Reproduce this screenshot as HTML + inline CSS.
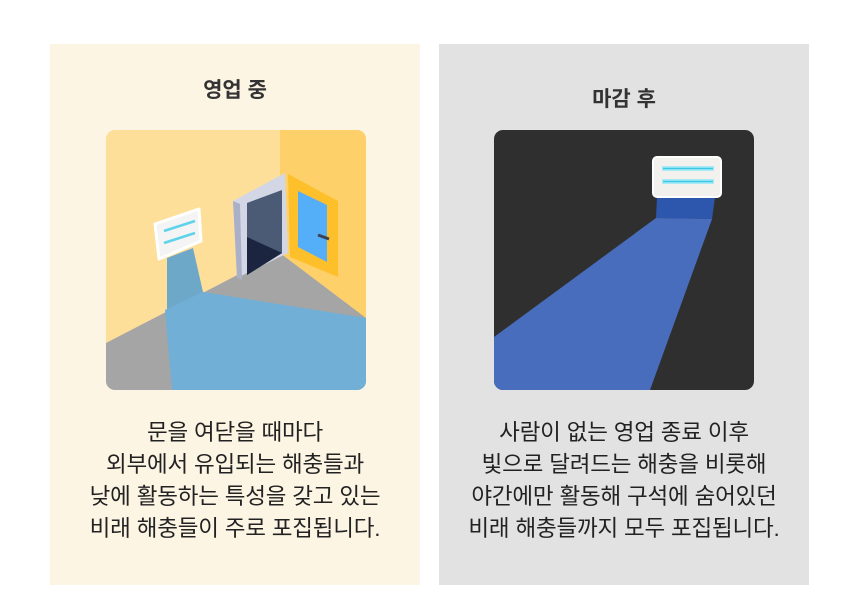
<!DOCTYPE html>
<html><head><meta charset="utf-8"><style>
body{margin:0;width:860px;height:612px;background:#fff;position:relative;overflow:hidden;font-family:"Liberation Sans","Noto Sans CJK KR",sans-serif;color:#222}
.card{position:absolute;top:44px;width:370px;height:541px}
.t{position:absolute;left:0;width:370px;text-align:center;font-size:21px;font-weight:bold;color:#333}
.b{position:absolute;left:0;top:373px;width:370px;text-align:center;font-size:22.5px;line-height:32px;color:#222;letter-spacing:-0.2px}
svg{position:absolute;top:86px}
</style></head><body>
<div class="card" style="left:50px;background:#fdf5e4">
<div class="t" style="top:30px">영업 중</div>
<svg style="left:56px" width="260" height="260" viewBox="0 0 260 260">
<defs><clipPath id="c1"><rect width="260" height="260" rx="9"/></clipPath></defs>
<g clip-path="url(#c1)">
<rect width="260" height="260" fill="#fedf9a"/>
<polygon points="174,0 260,0 260,188 174,123" fill="#fed06a"/>
<polygon points="0,213 174,123 260,188 260,260 0,260" fill="#a5a5a5"/>
<polygon points="61,128 87,118 97,162 61,180" fill="#6ea8c8"/>
<polygon points="59,180 97,162 260,188 260,260 66,260" fill="#71afd6"/>
<polygon points="49,94 93,79 95,111 53,129" fill="#f4f4f4" stroke="#fff" stroke-width="3" stroke-linejoin="round"/>
<line x1="58" y1="101" x2="89" y2="91" stroke="#5fd3ea" stroke-width="2.5"/>
<line x1="58" y1="113" x2="89" y2="103" stroke="#5fd3ea" stroke-width="2.5"/>
<polygon points="127,71 179,43 182,123 131,148" fill="#d3d7e5"/>
<polygon points="127,71 134,74 136,150 131,148" fill="#aab0c8"/>
<polygon points="141,73 176,60 176,123 141,145" fill="#4b5a75"/>
<polygon points="141,107 176,123 141,145" fill="#1c2540"/>
<polygon points="182,44 232,71 232,147 184,127" fill="#fdc02a"/>
<polygon points="192,61 221,75 221,132 192,117" fill="#55aef8"/>
<line x1="212" y1="105" x2="223" y2="109" stroke="#3a4356" stroke-width="3"/>
</g></svg>
<div class="b">문을 여닫을 때마다<br>외부에서 유입되는 해충들과<br>낮에 활동하는 특성을 갖고 있는<br>비래 해충들이 주로 포집됩니다.</div>
</div>
<div class="card" style="left:439px;background:#e2e2e2">
<div class="t" style="top:39px">마감 후</div>
<svg style="left:55px" width="260" height="260" viewBox="0 0 260 260">
<defs><clipPath id="c2"><rect width="260" height="260" rx="9"/></clipPath></defs>
<g clip-path="url(#c2)">
<rect width="260" height="260" fill="#2f2f2f"/>
<polygon points="163,67 221,67 218,89 162,88" fill="#2d57ad"/>
<polygon points="162,88 218,89 156,260 0,260 0,207" fill="#496dbd"/>
<rect x="159" y="27" width="68" height="40" rx="4" fill="#f3f1ee" stroke="#fff" stroke-width="2"/>
<rect x="168" y="36" width="52" height="5" fill="#a8eaf6"/>
<line x1="169" y1="38.5" x2="219" y2="38.5" stroke="#3dc9e6" stroke-width="1.5"/>
<rect x="168" y="49" width="52" height="5" fill="#a8eaf6"/>
<line x1="169" y1="51.5" x2="219" y2="51.5" stroke="#3dc9e6" stroke-width="1.5"/>
</g></svg>
<div class="b">사람이 없는 영업 종료 이후<br>빛으로 달려드는 해충을 비롯해<br>야간에만 활동해 구석에 숨어있던<br>비래 해충들까지 모두 포집됩니다.</div>
</div>
</body></html>
